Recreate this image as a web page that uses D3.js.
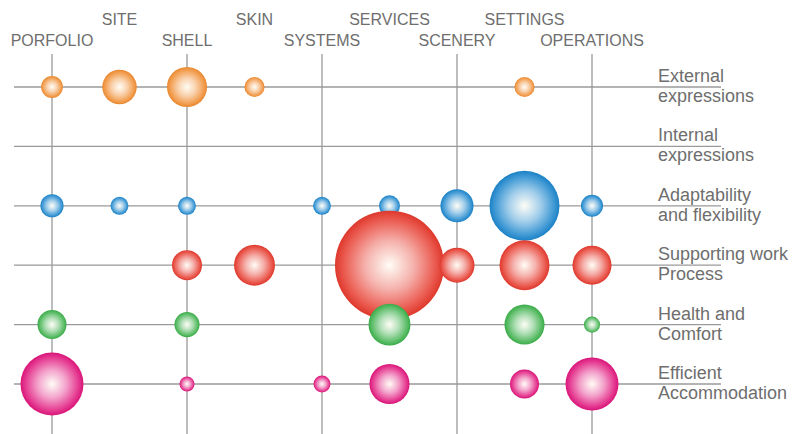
<!DOCTYPE html>
<html>
<head>
<meta charset="utf-8">
<script src="https://cdn.jsdelivr.net/npm/d3@7"></script>
<style>
  body { margin: 0; background: #fff; }
  svg text { font-family: "Liberation Sans", Arial, sans-serif; fill: #6e6e6e; }
  .grid line { stroke: #9a9a9a; stroke-width: 1.3; }
</style>
</head>
<body>
<svg id="chart" width="797" height="434"></svg>
<script>
// columns across the top
const columns = ["PORFOLIO", "SITE", "SHELL", "SKIN", "SYSTEMS",
                 "SERVICES", "SCENERY", "SETTINGS", "OPERATIONS"];

// rows, each label split over two lines
const rows = ["External", "Internal", "Adaptability", "Supporting",
              "Health", "Efficient"];
const rowLabels = [["External", "expressions"],
                   ["Internal", "expressions"],
                   ["Adaptability", "and flexibility"],
                   ["Supporting work", "Process"],
                   ["Health and", "Comfort"],
                   ["Efficient", "Accommodation"]];

// bubble sizes (relative area, largest = 100), one per column; null = no bubble
const external     = [4, 10, 13.5, 3.4, null, null, null, 3.4, null];
const internal     = [null, null, null, null, null, null, null, null, null];
const adaptability = [4.5, 2.7, 2.7, null, 2.7, 3.7, 9.2, 41.2, 4.1];
const supporting   = [null, null, 7.6, 14.1, null, 100, 10.3, 21, 12.8];
const health       = [7.1, null, 5.3, null, null, 14.8, null, 13.5, 2.2];
const efficient    = [33.4, null, 1.9, null, 2.4, 13.5, null, 7.1, 23.6];

const series = [external, internal, adaptability, supporting, health, efficient];
const rowColors = ["#f08c30", "#999999", "#1c86cc", "#e63a2e", "#3cb04a", "#e0167c"];

const svg = d3.select("#chart");

const x = d3.scalePoint().domain(columns).range([52, 592]);
const y = d3.scalePoint().domain(rows).range([87, 384]);
const r = d3.scaleSqrt().domain([0, 100]).range([0, 54.5]);

// gradients
const defs = svg.append("defs");
rows.forEach((row, i) => {
    let c = d3.color(rowColors[i]);
    let g = defs.append("radialGradient")
        .attr("id", `grad-${i}`)
        .attr("cx", "50%").attr("cy", "50%").attr("r", "50%");
    g.append("stop").attr("offset", "0%").attr("stop-color", "#fffdf6");
    g.append("stop").attr("offset", "45%").attr("stop-color", d3.interpolateRgb(c, "#fff")(0.6));
    g.append("stop").attr("offset", "85%").attr("stop-color", d3.interpolateRgb(c, "#fff")(0.15));
    g.append("stop").attr("offset", "100%").attr("stop-color", c.darker(0.1));
});

// grid
let grid = svg.append("g").attr("class", "grid");
grid.selectAll("line.v")
    .data(columns.filter((d, i) => i % 2 == 0))
    .join("line")
    .attr("class", "v")
    .attr("x1", (d) => x(d)).attr("x2", (d) => x(d))
    .attr("y1", 54).attr("y2", 434);
grid.selectAll("line.h")
    .data(rows)
    .join("line")
    .attr("class", "h")
    .attr("x1", 14).attr("x2", 721)
    .attr("y1", (d) => y(d)).attr("y2", (d) => y(d));

// column labels, staggered on two lines
svg.append("g").selectAll("text")
    .data(columns)
    .join("text")
    .attr("text-anchor", "middle")
    .attr("font-size", 16)
    .attr("x", (d) => x(d))
    .attr("y", (d, i) => i % 2 == 0 ? 46 : 25)
    .text((d) => d);

// row labels on the right
let labels = svg.append("g").selectAll("text")
    .data(rows)
    .join("text")
    .attr("font-size", 18)
    .attr("x", 658)
    .attr("y", (d) => y(d));
labels.append("tspan").attr("x", 658).attr("dy", -5)
    .text((d, i) => rowLabels[i][0]);
labels.append("tspan").attr("x", 658).attr("dy", 20)
    .text((d, i) => rowLabels[i][1]);

// bubbles
let points = [];
series.forEach((values, i) => {
    values.forEach((v, j) => {
        if (v != null) points.push({row: rows[i], ri: i, col: columns[j], v: v});
    });
});
svg.append("g").selectAll("circle")
    .data(points)
    .join("circle")
    .attr("cx", (p) => x(p.col))
    .attr("cy", (p) => y(p.row))
    .attr("r", (p) => r(p.v))
    .attr("fill", (p) => `url(#grad-${p.ri})`);
</script>
</body>
</html>
